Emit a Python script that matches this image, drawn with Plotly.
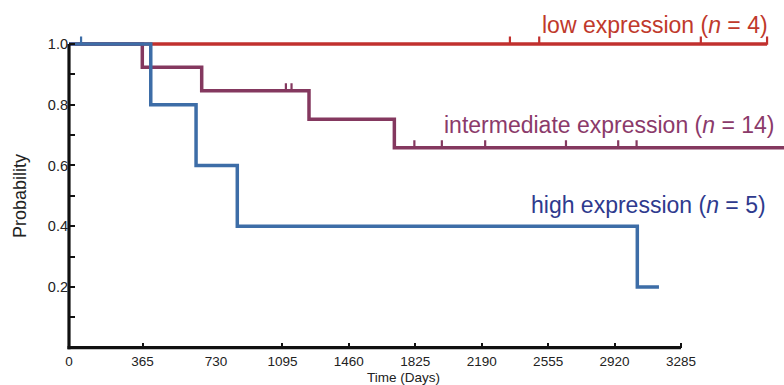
import plotly.graph_objects as go

# ---- data (days, survival probability) ----
high_times = [0, 406, 631, 847, 3045, 3164]
high_surv = [1.0, 0.8, 0.6, 0.4, 0.2, 0.2]
high_censor = [60]

inter_times = [0, 364, 659, 1241, 1710, 3860]
inter_surv = [1.0, 0.923, 0.846, 0.752, 0.658, 0.658]
inter_censor = [1114, 1145, 1820, 1971, 2209, 2653, 2940, 3041]

low_times = [0, 3758]
low_surv = [1.0, 1.0]
low_censor = [2345, 2506, 3394, 3758]

x_ticks = [0, 365, 730, 1095, 1460, 1825, 2190, 2555, 2920, 3285]
y_ticks = [0.1, 0.2, 0.3, 0.4, 0.5, 0.6, 0.7, 0.8, 0.9, 1.0]
y_ticktext = ["", "0.2", "", "0.4", "", "0.6", "", "0.8", "", "1.0"]

labels = ["low expression (<i>n</i> = 4)",
          "intermediate expression (<i>n</i> = 14)",
          "high expression (<i>n</i> = 5)"]

RED, PURPLE, BLUE = "#C1302E", "#84385F", "#3D6DA7"
TXT_RED, TXT_PURPLE, TXT_BLUE = "#C0392B", "#8B3A6A", "#2E3A8E"
FONT = "Liberation Sans, Arial, sans-serif"

W, H = 784, 385
# split x axis (original figure has wider first two intervals)
X_SPLIT = 730
X1_DOM = [69 / W, 216 / W]
X2_DOM = [216 / W, 1.0]
X2_RANGE = [730, 3851]
Y_RANGE = [0, 1.1]
Y_DOM = [(H - 347.7) / H, (H - 13.6) / H]
TICK_OFF = 0.011


def step_value(times, surv, t):
    v = surv[0]
    for ti, si in zip(times, surv):
        if ti <= t:
            v = si
    return v


fig = go.Figure()
series = [
    (low_times, low_surv, low_censor, RED),
    (inter_times, inter_surv, inter_censor, PURPLE),
    (high_times, high_surv, high_censor, BLUE),
]
for times, surv, cens, col in series:
    cy = [step_value(times, surv, t) + TICK_OFF for t in cens]
    for xa in ["x", "x2"]:
        fig.add_trace(go.Scatter(x=times, y=surv, mode="lines", line_shape="hv",
                                 line=dict(color=col, width=3.5), xaxis=xa, yaxis="y",
                                 showlegend=False, hoverinfo="skip"))
        fig.add_trace(go.Scatter(x=cens, y=cy, mode="markers",
                                 marker=dict(symbol="line-ns", size=6,
                                             line=dict(color=col, width=2.2)),
                                 xaxis=xa, yaxis="y", showlegend=False, hoverinfo="skip"))

tickfont = dict(family=FONT, size=13.5, color="#222")
common_x = dict(showgrid=False, zeroline=False, showline=False, ticks="inside",
                ticklen=5, tickwidth=2, tickcolor="#111", tickfont=tickfont,
                anchor="y", tickmode="array", automargin=False, ticklabelstandoff=4)
fig.update_layout(
    width=W, height=H, autosize=False,
    margin=dict(l=0, r=0, t=0, b=0, pad=0),
    paper_bgcolor="white", plot_bgcolor="white",
    xaxis=dict(domain=X1_DOM, range=[0, X_SPLIT],
               tickvals=[v for v in x_ticks if v < X_SPLIT],
               ticktext=[str(v) for v in x_ticks if v < X_SPLIT], **common_x),
    xaxis2=dict(domain=X2_DOM, range=X2_RANGE,
                tickvals=[v for v in x_ticks if v >= X_SPLIT],
                ticktext=[str(v) for v in x_ticks if v >= X_SPLIT], **common_x),
    yaxis=dict(domain=Y_DOM, range=Y_RANGE, anchor="x", showgrid=False, zeroline=False,
               showline=False, ticks="inside", ticklen=6, tickwidth=2, tickcolor="#111",
               tickmode="array", tickvals=y_ticks, ticktext=y_ticktext, automargin=False,
               tickfont=dict(family=FONT, size=14.5, color="#222")),
)

# axis lines (y axis from 0 to 1.0, x axis from 0 to last tick)
y_of_one = Y_DOM[0] + (1.0 - Y_RANGE[0]) / (Y_RANGE[1] - Y_RANGE[0]) * (Y_DOM[1] - Y_DOM[0])
x_of_last = X2_DOM[0] + (x_ticks[-1] - X2_RANGE[0]) / (X2_RANGE[1] - X2_RANGE[0]) * (X2_DOM[1] - X2_DOM[0])
fig.add_shape(type="line", xref="paper", yref="paper", x0=X1_DOM[0], x1=X1_DOM[0],
              y0=Y_DOM[0] - 1.5 / H, y1=y_of_one, line=dict(color="#111", width=3.2))
fig.add_shape(type="line", xref="paper", yref="paper", x0=X1_DOM[0] - 1.5 / W, x1=x_of_last,
              y0=Y_DOM[0], y1=Y_DOM[0], line=dict(color="#111", width=3.2))

# axis titles
fig.add_annotation(text="Time (Days)", xref="paper", yref="paper", x=403 / W, y=1 - 377 / H,
                   xanchor="center", yanchor="middle", showarrow=False,
                   font=dict(family=FONT, size=13.5, color="#222"))
fig.add_annotation(text="Probability", xref="paper", yref="paper", x=20 / W, y=1 - 196 / H,
                   xanchor="center", yanchor="middle", textangle=-90, showarrow=False,
                   font=dict(family=FONT, size=18, color="#222"))

# curve labels
for txt, xr, yc, col in [(labels[0], 770, 25, TXT_RED), (labels[1], 777, 125, TXT_PURPLE),
                         (labels[2], 768, 205, TXT_BLUE)]:
    fig.add_annotation(text=txt, xref="paper", yref="paper", x=xr / W, y=1 - yc / H,
                       xanchor="right", yanchor="middle", showarrow=False,
                       font=dict(family=FONT, size=23, color=col))

fig.write_html("out.html")
